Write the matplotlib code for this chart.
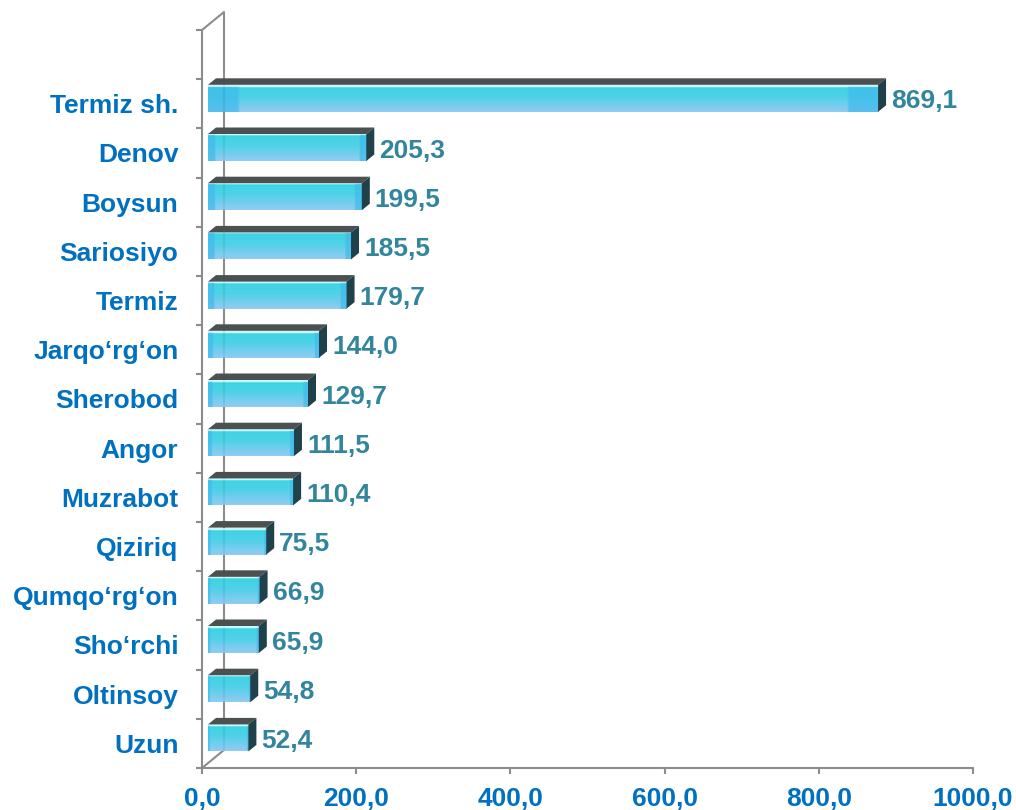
import numpy as np
import matplotlib.pyplot as plt
from matplotlib.patches import Polygon
from matplotlib.colors import to_rgb

plt.rcParams['font.family'] = ['Liberation Sans', 'DejaVu Sans']
plt.rcParams['font.weight'] = 'bold'

# data (top to bottom as in the picture)
districts = ['Termiz sh.', 'Denov', 'Boysun', 'Sariosiyo', 'Termiz', 'Jarqo‘rg‘on',
             'Sherobod', 'Angor', 'Muzrabot', 'Qiziriq', 'Qumqo‘rg‘on', 'Sho‘rchi',
             'Oltinsoy', 'Uzun']
values = [869.1, 205.3, 199.5, 185.5, 179.7, 144.0, 129.7, 111.5, 110.4, 75.5,
          66.9, 65.9, 54.8, 52.4]
x_ticks = [0, 200, 400, 600, 800, 1000]

W, H = 1016, 810
fig = plt.figure(figsize=(W / 100, H / 100), dpi=100)
ax = fig.add_axes([202 / W, 42 / H, 771 / W, 738 / H])

n = len(values)
ux = 1000 / 771          # data units per pixel (x)
uy = (n + 1) / 738       # data units per pixel (y)

# pseudo 3d offsets
wall_dx, wall_dy = 22 * ux, 18 * uy
face_dx, face_dy = 6 * ux, 5.5 * uy
deep_dx, deep_dy = 8 * ux, 6.5 * uy
bar_h = 27 * uy

axis_col = '#8c8c8c'
label_col = '#0070c0'
value_col = '#31859c'


def bar_image(rows=60, cols=240):
    t = np.linspace(0, 1, rows)[:, None, None]
    hi = np.array(to_rgb('#c6f6fa'))
    c1 = np.array(to_rgb('#22d0e0'))
    c2 = np.array(to_rgb('#3ccce6'))
    c3 = np.array(to_rgb('#86c6f2'))
    col = np.where(t < 0.08, hi,
                   np.where(t < 0.45, c1 + (c2 - c1) * (t / 0.45),
                            c2 + (c3 - c2) * ((t - 0.45) / 0.55)))
    col = np.broadcast_to(col, (rows, cols, 3)).copy()
    s = np.linspace(0, 1, cols)
    edge = ((s < 0.045) | (s > 0.955))[None, :, None]
    edge_col = np.array(to_rgb('#2ab2ea'))
    mixed = col * 0.3 + edge_col * 0.7
    mixed[:int(rows * 0.08)] = col[:int(rows * 0.08)]
    col = np.where(edge, mixed, col)
    return col


img = bar_image()

# back wall lines
ax.plot([0, wall_dx, wall_dx], [n + 0.5, n + 0.5 + wall_dy, -0.5 + wall_dy],
        color=axis_col, lw=1.5, zorder=1, clip_on=False, solid_capstyle='butt')
ax.plot([0, wall_dx], [-0.5, -0.5 + wall_dy], color=axis_col, lw=1.5, zorder=1,
        clip_on=False)

ypos = [n - 1 - i for i in range(n)]
for y, v in zip(ypos, values):
    x0 = face_dx
    x1 = face_dx + v
    yb = y + face_dy - bar_h / 2
    yt = y + face_dy + bar_h / 2
    ax.imshow(img, extent=(x0, x1, yb, yt), aspect='auto', origin='upper',
              interpolation='bilinear', zorder=3, alpha=0.9)
    top = Polygon([(x0, yt), (x1, yt), (x1 + deep_dx, yt + deep_dy),
                   (x0 + deep_dx, yt + deep_dy)], closed=True,
                  facecolor='#4b5051', edgecolor='none', zorder=3)
    side = Polygon([(x1, yb), (x1, yt), (x1 + deep_dx, yt + deep_dy),
                    (x1 + deep_dx, yb + deep_dy)], closed=True,
                   facecolor='#21414a', edgecolor='none', zorder=3)
    ax.add_patch(top)
    ax.add_patch(side)
    ax.text(x1 + deep_dx + 5 * ux, y + face_dy - 3 * uy, f'{v:.1f}'.replace('.', ','),
            color=value_col, fontsize=19, fontweight='bold', va='center', ha='left',
            zorder=4)

ax.set_xlim(0, 1000)
ax.set_ylim(-0.5, n + 0.5)

ax.set_xticks(x_ticks, labels=[f'{t:.1f}'.replace('.', ',') for t in x_ticks])
ax.set_yticks(np.arange(-0.5, n + 1), labels=[])
ax.set_yticks(ypos, labels=districts, minor=True)

ax.tick_params(axis='x', colors=axis_col, labelcolor=label_col, labelsize=19,
               length=4.5, width=1.5, pad=9)
ax.tick_params(axis='y', which='major', colors=axis_col, length=4.5, width=1.5)
ax.tick_params(axis='y', which='minor', length=0, labelcolor=label_col,
               labelsize=19, pad=17)

for side_name in ['top', 'right']:
    ax.spines[side_name].set_visible(False)
for side_name in ['left', 'bottom']:
    ax.spines[side_name].set_color(axis_col)
    ax.spines[side_name].set_linewidth(1.5)
ax.set_facecolor('none')

fig.savefig('out.png', dpi=100)
